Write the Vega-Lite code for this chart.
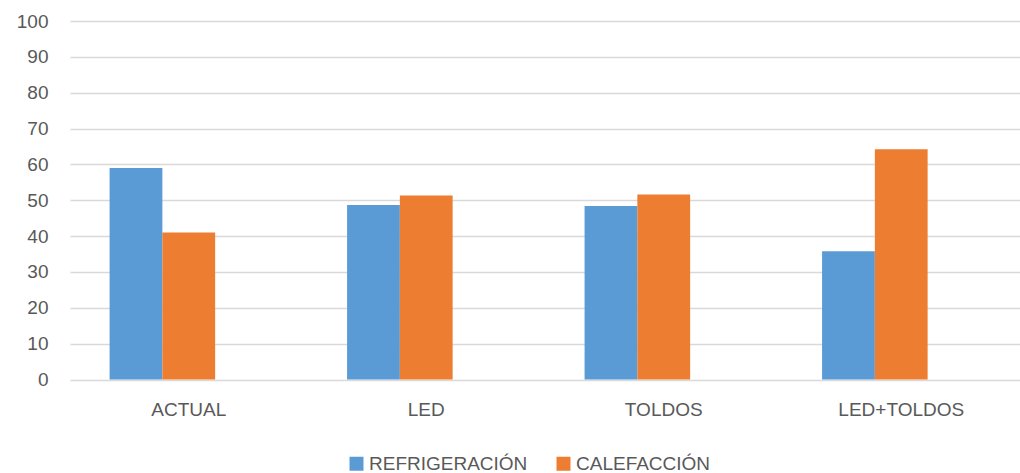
{
  "$schema": "https://vega.github.io/schema/vega-lite/v6.json",
  "width": 950,
  "height": 358.5,
  "autosize": {"type": "none"},
  "padding": {"left": 70, "top": 21, "right": 0, "bottom": 93.5},
  "background": "white",
  "data": {
    "values": [
      {"escenario": "ACTUAL", "uso": "REFRIGERACIÓN", "valor": 59.0},
      {"escenario": "ACTUAL", "uso": "CALEFACCIÓN", "valor": 41.0},
      {"escenario": "LED", "uso": "REFRIGERACIÓN", "valor": 48.7},
      {"escenario": "LED", "uso": "CALEFACCIÓN", "valor": 51.3},
      {"escenario": "TOLDOS", "uso": "REFRIGERACIÓN", "valor": 48.4},
      {"escenario": "TOLDOS", "uso": "CALEFACCIÓN", "valor": 51.6},
      {"escenario": "LED+TOLDOS", "uso": "REFRIGERACIÓN", "valor": 35.8},
      {"escenario": "LED+TOLDOS", "uso": "CALEFACCIÓN", "valor": 64.2}
    ]
  },
  "mark": {"type": "bar"},
  "encoding": {
    "x": {
      "field": "escenario",
      "type": "nominal",
      "sort": ["ACTUAL", "LED", "TOLDOS", "LED+TOLDOS"],
      "scale": {"paddingInner": 0.3333, "paddingOuter": 0.1667},
      "axis": {
        "title": null,
        "labelAngle": 0,
        "domain": false,
        "ticks": false,
        "grid": false,
        "labelFont": "Liberation Sans",
        "labelFontSize": 19,
        "labelColor": "#595959",
        "labelPadding": 21
      }
    },
    "xOffset": {
      "field": "uso",
      "type": "nominal",
      "scale": {"domain": ["REFRIGERACIÓN", "CALEFACCIÓN", "SERIE3"], "paddingInner": 0, "paddingOuter": 0}
    },
    "y": {
      "field": "valor",
      "type": "quantitative",
      "scale": {"domain": [0, 100], "nice": false},
      "axis": {
        "title": null,
        "values": [0, 10, 20, 30, 40, 50, 60, 70, 80, 90, 100],
        "domain": false,
        "ticks": false,
        "grid": true,
        "gridColor": "#D9D9D9",
        "gridWidth": 1.5,
        "labelFont": "Liberation Sans",
        "labelFontSize": 19,
        "labelColor": "#595959",
        "labelPadding": 22
      }
    },
    "color": {
      "field": "uso",
      "type": "nominal",
      "scale": {"domain": ["REFRIGERACIÓN", "CALEFACCIÓN"], "range": ["#5B9BD5", "#ED7D31"]},
      "legend": {
        "title": null,
        "orient": "none",
        "direction": "horizontal",
        "legendX": 277,
        "legendY": 433,
        "symbolType": "square",
        "symbolSize": 196,
        "symbolStrokeWidth": 0,
        "labelFont": "Liberation Sans",
        "labelFontSize": 19,
        "labelColor": "#595959",
        "labelOffset": 3,
        "columnPadding": 26
      }
    }
  },
  "config": {"view": {"stroke": null}}
}
